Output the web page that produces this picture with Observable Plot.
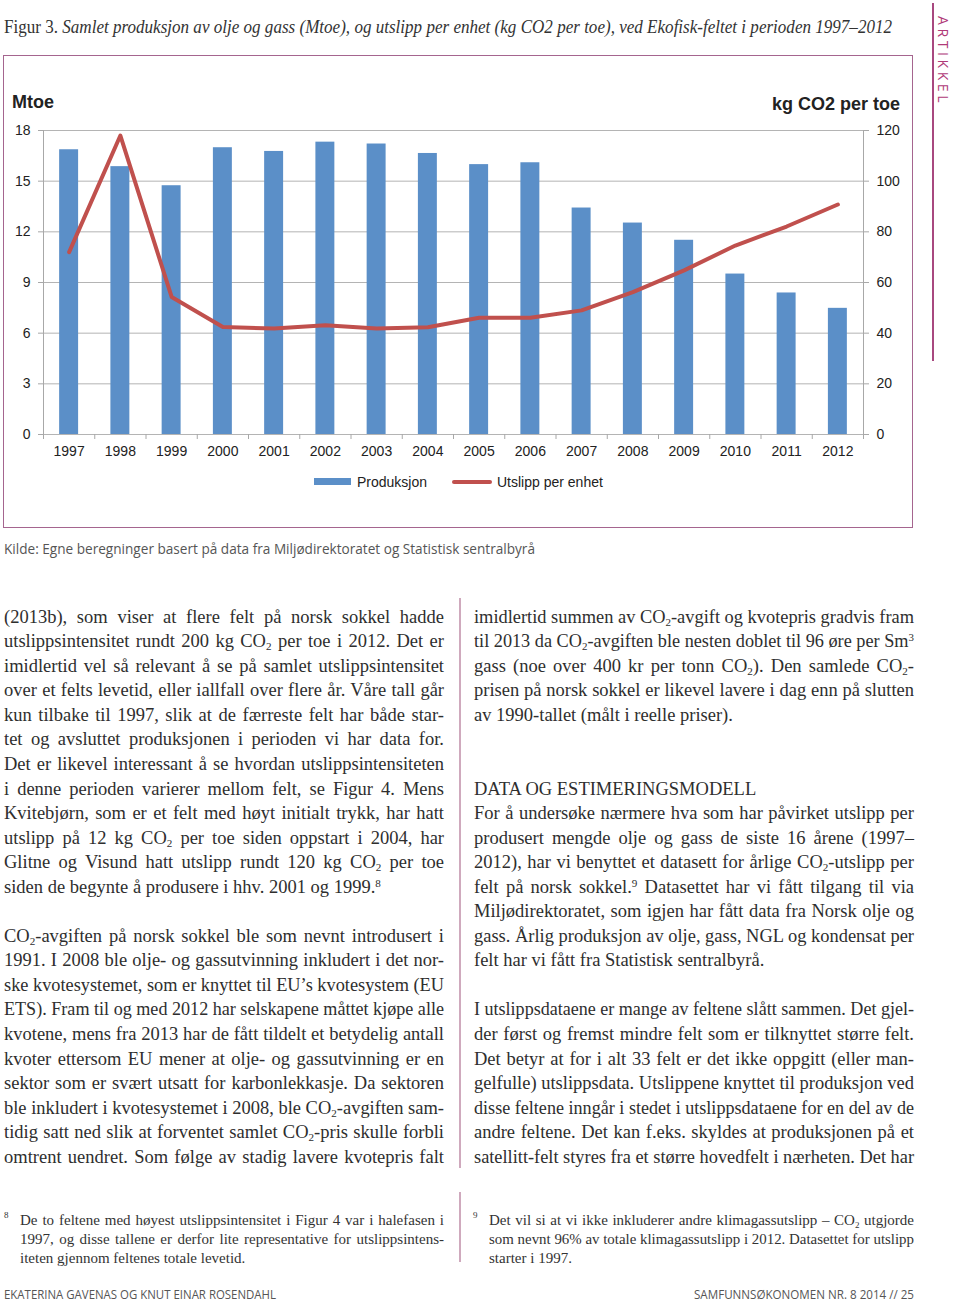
<!DOCTYPE html>
<html><head><meta charset="utf-8">
<script src="https://cdn.jsdelivr.net/npm/d3@7"></script>
<script src="https://cdn.jsdelivr.net/npm/@observablehq/plot@0.6"></script>
<style>
body{margin:0;background:#fff;}
#page{position:relative;width:960px;height:1302px;overflow:hidden;background:#fff;}
.abs{position:absolute;white-space:nowrap;}
.body{font-family:"Liberation Serif",serif;font-size:18.5px;color:#2e2e2e;}
.fn{font-family:"Liberation Serif",serif;font-size:15px;color:#333;}
.sans{font-family:"Liberation Sans",Arial,sans-serif;color:#222;}
.cond{font-family:"Open Sans","Noto Sans",sans-serif;color:#555;}
sub{font-size:0.6em;vertical-align:-0.3em;line-height:0;}
sup{font-size:0.6em;vertical-align:0.55em;line-height:0;}
</style></head>
<body><div id="page"></div>
<script>
// ---- chart data ----
const years = [1997,1998,1999,2000,2001,2002,2003,2004,2005,2006,2007,2008,2009,2010,2011,2012];
const production = [16.86,15.86,14.73,16.98,16.76,17.31,17.20,16.64,15.98,16.09,13.41,12.52,11.50,9.50,8.38,7.47];
const emissions = [72.0,118.0,54.3,42.4,41.8,43.1,41.8,42.3,46.1,46.1,49.0,56.2,64.8,74.6,82.1,90.8];
const leftTicks = [0,3,6,9,12,15,18];
const rightTicks = [0,20,40,60,80,100,120];
const seriesNames = ["Produksjon","Utslipp per enhet"];

// ---- text ----
const titleHTML = 'Figur 3. <i>Samlet produksjon av olje og gass (Mtoe), og utslipp per enhet (kg CO2 per toe), ved Ekofisk-feltet i perioden 1997–2012</i>';
const sourceText = 'Kilde: Egne beregninger basert på data fra Miljødirektoratet og Statistisk sentralbyrå';
const col1 = [
 ['(2013b), som viser at flere felt på norsk sokkel hadde',1],
 ['utslippsintensitet rundt 200 kg CO<sub>2</sub> per toe i 2012. Det er',1],
 ['imidlertid vel så relevant å se på samlet utslippsintensitet',1],
 ['over et felts levetid, eller iallfall over flere år. Våre tall går',1],
 ['kun tilbake til 1997, slik at de færreste felt har både star-',1],
 ['tet og avsluttet produksjonen i perioden vi har data for.',1],
 ['Det er likevel interessant å se hvordan utslippsintensiteten',1],
 ['i denne perioden varierer mellom felt, se Figur 4. Mens',1],
 ['Kvitebjørn, som er et felt med høyt initialt trykk, har hatt',1],
 ['utslipp på 12 kg CO<sub>2</sub> per toe siden oppstart i 2004, har',1],
 ['Glitne og Visund hatt utslipp rundt 120 kg CO<sub>2</sub> per toe',1],
 ['siden de begynte å produsere i hhv. 2001 og 1999.<sup>8</sup>',0],
 null,
 ['CO<sub>2</sub>-avgiften på norsk sokkel ble som nevnt introdusert i',1],
 ['1991. I 2008 ble olje- og gassutvinning inkludert i det nor-',1],
 ['ske kvotesystemet, som er knyttet til EU’s kvotesystem (EU',1],
 ['ETS). Fram til og med 2012 har selskapene måttet kjøpe alle',1],
 ['kvotene, mens fra 2013 har de fått tildelt et betydelig antall',1],
 ['kvoter ettersom EU mener at olje- og gassutvinning er en',1],
 ['sektor som er svært utsatt for karbonlekkasje. Da sektoren',1],
 ['ble inkludert i kvotesystemet i 2008, ble CO<sub>2</sub>-avgiften sam-',1],
 ['tidig satt ned slik at forventet samlet CO<sub>2</sub>-pris skulle forbli',1],
 ['omtrent uendret. Som følge av stadig lavere kvotepris falt',1]
];
const col2 = [
 ['imidlertid summen av CO<sub>2</sub>-avgift og kvotepris gradvis fram',1],
 ['til 2013 da CO<sub>2</sub>-avgiften ble nesten doblet til 96 øre per Sm<sup>3</sup>',1],
 ['gass (noe over 400 kr per tonn CO<sub>2</sub>). Den samlede CO<sub>2</sub>-',1],
 ['prisen på norsk sokkel er likevel lavere i dag enn på slutten',1],
 ['av 1990-tallet (målt i reelle priser).',0],
 null, null,
 ['DATA OG ESTIMERINGSMODELL',0],
 ['For å undersøke nærmere hva som har påvirket utslipp per',1],
 ['produsert mengde olje og gass de siste 16 årene (1997–',1],
 ['2012), har vi benyttet et datasett for årlige CO<sub>2</sub>-utslipp per',1],
 ['felt på norsk sokkel.<sup>9</sup> Datasettet har vi fått tilgang til via',1],
 ['Miljødirektoratet, som igjen har fått data fra Norsk olje og',1],
 ['gass. Årlig produksjon av olje, gass, NGL og kondensat per',1],
 ['felt har vi fått fra Statistisk sentralbyrå.',0],
 null,
 ['I utslippsdataene er mange av feltene slått sammen. Det gjel-',1],
 ['der først og fremst mindre felt som er tilknyttet større felt.',1],
 ['Det betyr at for i alt 33 felt er det ikke oppgitt (eller man-',1],
 ['gelfulle) utslippsdata. Utslippene knyttet til produksjon ved',1],
 ['disse feltene inngår i stedet i utslippsdataene for en del av de',1],
 ['andre feltene. Det kan f.eks. skyldes at produksjonen på et',1],
 ['satellitt-felt styres fra et større hovedfelt i nærheten. Det har',1]
];
const fn1 = [
 ['De to feltene med høyest utslippsintensitet i Figur 4 var i halefasen i',1],
 ['1997, og disse tallene er derfor lite representative for utslippsintens-',1],
 ['iteten gjennom feltenes totale levetid.',0]
];
const fn2 = [
 ['Det vil si at vi ikke inkluderer andre klimagassutslipp – CO<sub>2</sub> utgjorde',1],
 ['som nevnt 96% av totale klimagassutslipp i 2012. Datasettet for utslipp',1],
 ['starter i 1997.',0]
];
const footLeft = 'EKATERINA GAVENAS OG KNUT EINAR ROSENDAHL';
const footRight = 'SAMFUNNSØKONOMEN NR. 8 2014 // 25';

const page = document.getElementById('page');

function box(x,y,w,h,css){
  const d=document.createElement('div');
  d.style.position='absolute';d.style.left=x+'px';d.style.top=y+'px';d.style.width=w+'px';d.style.height=h+'px';
  Object.assign(d.style,css||{});page.appendChild(d);return d;
}
function place(html,x,yc,w,lh,cls,mode,css){
  const d=document.createElement('div');
  d.className='abs '+cls;
  d.style.left=x+'px';d.style.top=(yc-lh/2)+'px';d.style.width=w+'px';
  d.style.lineHeight=lh+'px';d.style.height=lh+'px';
  Object.assign(d.style,css||{});
  const s=document.createElement('span');s.innerHTML=html;d.appendChild(s);page.appendChild(d);
  const nat=s.getBoundingClientRect().width;
  if(mode==='exact' || nat>w){
    s.style.display='inline-block';s.style.transformOrigin='0 50%';
    s.style.transform='scaleX('+(w/nat)+')';
  } else if(mode===1){
    d.style.whiteSpace='normal';d.style.textAlign='justify';d.style.textAlignLast='justify';
  }
  return d;
}

// title
place(titleHTML,4,27,888,24,'body','exact',{color:'#333'});
// side label + line
box(932,3,1.5,358,{background:'#a8487f'});
const art=box(898,52,90,18,{transform:'rotate(90deg)',transformOrigin:'50% 50%',fontFamily:'"Open Sans",sans-serif',fontSize:'14px',letterSpacing:'3.6px',color:'#b03a78',textAlign:'center',lineHeight:'18px',fontWeight:'400'});
art.textContent='ARTIKKEL';
// chart frame
box(3,55,908,471,{border:'1.5px solid #a5658f'});

// chart
const rows = years.map((y,i)=>({year:y, prod:production[i], emis:emissions[i]}));
const K = 18/120;
const bounds = years.map(y=>y-0.5).concat([years[years.length-1]+0.5]);
const plot = Plot.plot({
  width:960, height:380,
  marginLeft:43, marginRight:97, marginTop:40, marginBottom:36,
  x:{type:'linear', domain:[1996.5,2012.5], axis:null},
  y:{domain:[0,18], axis:null},
  style:{fontFamily:'"Liberation Sans", Arial, sans-serif', fontSize:'14px', color:'#222', background:'transparent', overflow:'visible'},
  marks:[
    Plot.gridY(leftTicks,{stroke:'#b4b4b4', strokeOpacity:1}),
    Plot.ruleX([1996.5,2012.5],{stroke:'#a8a8a8'}),
    Plot.rectY(rows,{x1:d=>d.year-0.185, x2:d=>d.year+0.185, y1:0, y2:'prod', fill:'#5b8fc8'}),
    Plot.line(rows,{x:'year', y:d=>d.emis*K, stroke:'#c0504d', strokeWidth:4, strokeLinejoin:'round', strokeLinecap:'round'}),
    Plot.axisY(leftTicks,{anchor:'left', tickSize:5, tickPadding:8, stroke:'#a8a8a8', fill:'#222', label:null, tickFormat:d=>String(d)}),
    Plot.axisY(rightTicks.map(v=>v*K),{anchor:'right', tickSize:5, tickPadding:8, stroke:'#a8a8a8', fill:'#222', label:null, tickFormat:d=>String(Math.round(d/K))}),
    Plot.axisX(bounds,{anchor:'bottom', tickSize:5, stroke:'#a8a8a8', label:null, tickFormat:()=>''}),
    Plot.axisX(years,{anchor:'bottom', tickSize:0, tickPadding:12, fill:'#222', label:null, tickFormat:d=>String(d)})
  ]
});
plot.style.position='absolute';plot.style.left='0px';plot.style.top='90px';
page.appendChild(plot);

// axis titles
place('Mtoe',12,102,100,22,'sans',0,{fontWeight:'bold',fontSize:'18px'});
place('kg CO2 per toe',700,104,200,22,'sans',0,{fontWeight:'bold',fontSize:'18px',textAlign:'right'});

// legend
box(314,478,37,7,{background:'#5b8fc8'});
place(seriesNames[0],357,482,120,18,'sans',0,{fontSize:'14px'});
box(452,479.5,40,4,{background:'#c0504d',borderRadius:'2px'});
place(seriesNames[1],497,482,160,18,'sans',0,{fontSize:'14px'});

// source
place(sourceText,4,549,531,20,'cond','exact',{fontSize:'14px'});

// body columns
const LH=24.545;
col1.forEach((l,i)=>{ if(l) place(l[0],4,617+i*LH,440,LH,'body',l[1]); });
col2.forEach((l,i)=>{ if(l) place(l[0],474,617+i*LH,440,LH,'body',l[1]); });
box(459,598,1.5,570,{background:'#cfa9bd'});
box(459,1192,1.5,70,{background:'#cfa9bd'});

// footnotes
place('<sup>8</sup>',4,1218,12,19,'fn',0);
fn1.forEach((l,i)=>place(l[0],20,1220+i*19,424,19,'fn',l[1]));
place('<sup>9</sup>',473,1218,12,19,'fn',0);
fn2.forEach((l,i)=>place(l[0],489,1220+i*19,425,19,'fn',l[1]));

// footer
place(footLeft,4,1294,272,13,'cond','exact',{fontSize:'13px'});
place(footRight,694,1294,220,13,'cond','exact',{fontSize:'13px'});
</script>
</body></html>
